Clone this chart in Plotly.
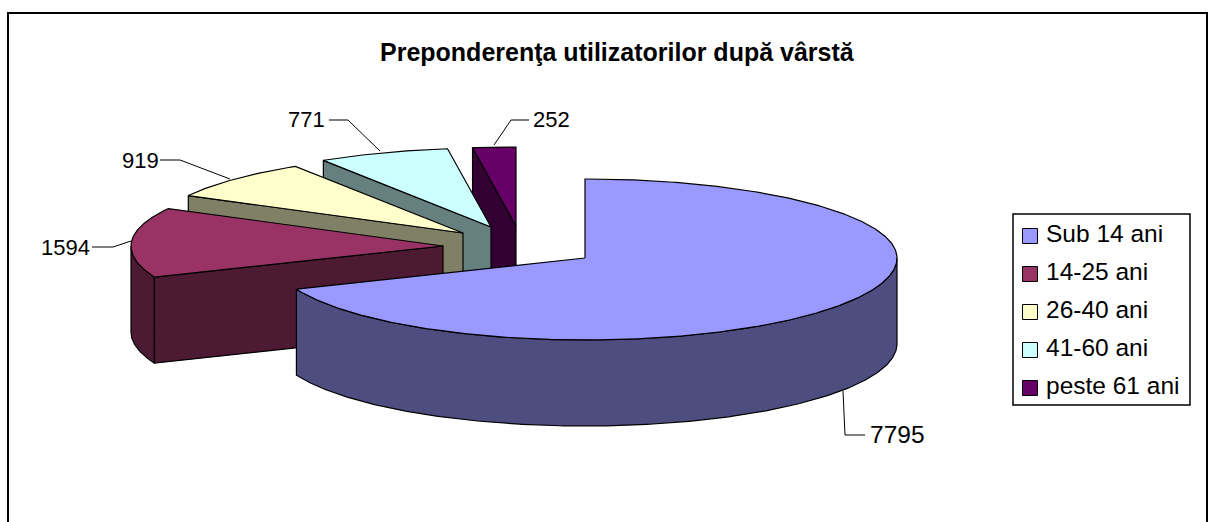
import math
import plotly.graph_objects as go

TITLE = "Preponderenţa utilizatorilor după vârstă"
categories = ["Sub 14 ani", "14-25 ani", "26-40 ani", "41-60 ani", "peste 61 ani"]
values = [7795, 1594, 919, 771, 252]

# styles / layout of the drawing
top_colors = ["#9999FF", "#993366", "#FFFFCC", "#CCFFFF", "#660066"]
side_colors = ["#4D4D80", "#4D1A33", "#808066", "#668080", "#330033"]
apex_x = [585, 443, 463, 491, 516]
apex_y = [258, 246, 233, 227, 226]
RX, RY_BACK, RY_FRONT, DEPTH = 312, 79, 82, 86
FONT = "Liberation Sans"
LEGEND_SIZE = 24.5
TITLE_SIZE = 25
OUTLINE = 1.2

leaders_x = [[843, 845, 865], [131, 113, 92], [230, 180, 160], [380, 348, 329], [494, 511, 529]]
leaders_y = [[391, 435, 435], [241, 247, 247], [179, 160, 160], [151, 120, 120], [145, 120, 120]]
label_x = [868, 92, 161, 327, 531]
label_y = [434, 247, 160, 119, 119]
label_size = [24.5, 22, 22, 22, 22]
label_anchor = ["left", "right", "right", "right", "left"]

legend_swatch_x = [1030] * 5
legend_text_x = [1046] * 5
legend_y = [236, 274, 312, 350, 388]

total = sum(values)


def pt(i, deg, dz=0):
    r = math.radians(deg)
    c = math.cos(r)
    ry = RY_BACK if c > 0 else RY_FRONT
    return apex_x[i] + RX * math.sin(r), apex_y[i] - ry * c + dz


def arc(i, a, b, dz=0):
    n = max(2, int(abs(b - a) * 2))
    return [pt(i, a + (b - a) * k / n, dz) for k in range(n + 1)]


def poly(points, color, name):
    xs = [p[0] for p in points] + [points[0][0]]
    ys = [p[1] for p in points] + [points[0][1]]
    return go.Scatter(x=xs, y=ys, mode="lines", fill="toself", fillcolor=color,
                      line=dict(color="#000000", width=OUTLINE), hoverinfo="skip",
                      showlegend=False, name=name)


fig = go.Figure()

# angular extents of each slice, clockwise from the top
spans = []
acc = 0.0
for v in values:
    d = v / total * 360
    spans.append((acc, acc + d))
    acc += d

for i in reversed(range(len(values))):
    a, b = spans[i]
    name = categories[i]
    # outer wall: the part of the rim facing the viewer (90..270 deg)
    lo, hi = max(a, 90), min(b, 270)
    if lo < hi:
        fig.add_trace(poly(arc(i, lo, hi) + arc(i, hi, lo, DEPTH), side_colors[i], name))
    # cut wall at the start angle, if it faces the viewer
    if math.sin(math.radians(a)) < -1e-6:
        p = pt(i, a)
        q = pt(i, a, DEPTH)
        c = (apex_x[i], apex_y[i])
        d = (apex_x[i], apex_y[i] + DEPTH)
        fig.add_trace(poly([p, c, d, q], side_colors[i], name))
    # top face
    fig.add_trace(poly([(apex_x[i], apex_y[i])] + arc(i, a, b), top_colors[i], name))

# leader lines
for i in range(len(values)):
    fig.add_trace(go.Scatter(x=leaders_x[i], y=leaders_y[i], mode="lines",
                             line=dict(color="#000000", width=1), hoverinfo="skip", showlegend=False))

# legend: swatches and their texts
fig.add_trace(go.Scatter(
    x=legend_swatch_x, y=legend_y, mode="markers", hoverinfo="skip", showlegend=False,
    marker=dict(symbol="square", size=15, color=top_colors,
                line=dict(color="#000000", width=1))))
fig.add_trace(go.Scatter(
    x=legend_text_x, y=legend_y, mode="text", text=categories, textposition="middle right",
    textfont=dict(family=FONT, size=LEGEND_SIZE, color="#000000"),
    hoverinfo="skip", showlegend=False))

annotations = [dict(x=label_x[i], y=label_y[i], text=str(values[i]), showarrow=False,
                    xanchor=label_anchor[i], yanchor="middle",
                    font=dict(family=FONT, size=label_size[i], color="#000000"))
               for i in range(len(values))]
annotations.append(dict(x=617, y=52, text="<b>" + TITLE + "</b>", showarrow=False,
                        xanchor="center", yanchor="middle",
                        font=dict(family=FONT, size=TITLE_SIZE, color="#000000")))

fig.update_layout(
    width=1217, height=522, autosize=False, showlegend=False,
    margin=dict(l=0, r=0, t=0, b=0),
    paper_bgcolor="#FFFFFF", plot_bgcolor="#FFFFFF",
    xaxis=dict(range=[0, 1217], visible=False, fixedrange=True),
    yaxis=dict(range=[522, 0], visible=False, fixedrange=True),
    annotations=annotations,
    shapes=[
        dict(type="rect", xref="x", yref="y", x0=8, y0=13, x1=1207, y1=560,
             line=dict(color="#000000", width=2), fillcolor="rgba(0,0,0,0)", layer="below"),
        dict(type="rect", xref="x", yref="y", x0=1013, y0=214, x1=1190, y1=405,
             line=dict(color="#000000", width=1.5), fillcolor="#FFFFFF", layer="below"),
    ],
)

fig.write_html("out.html", config={"displayModeBar": False},
               post_script="document.body.style.margin='0';")
